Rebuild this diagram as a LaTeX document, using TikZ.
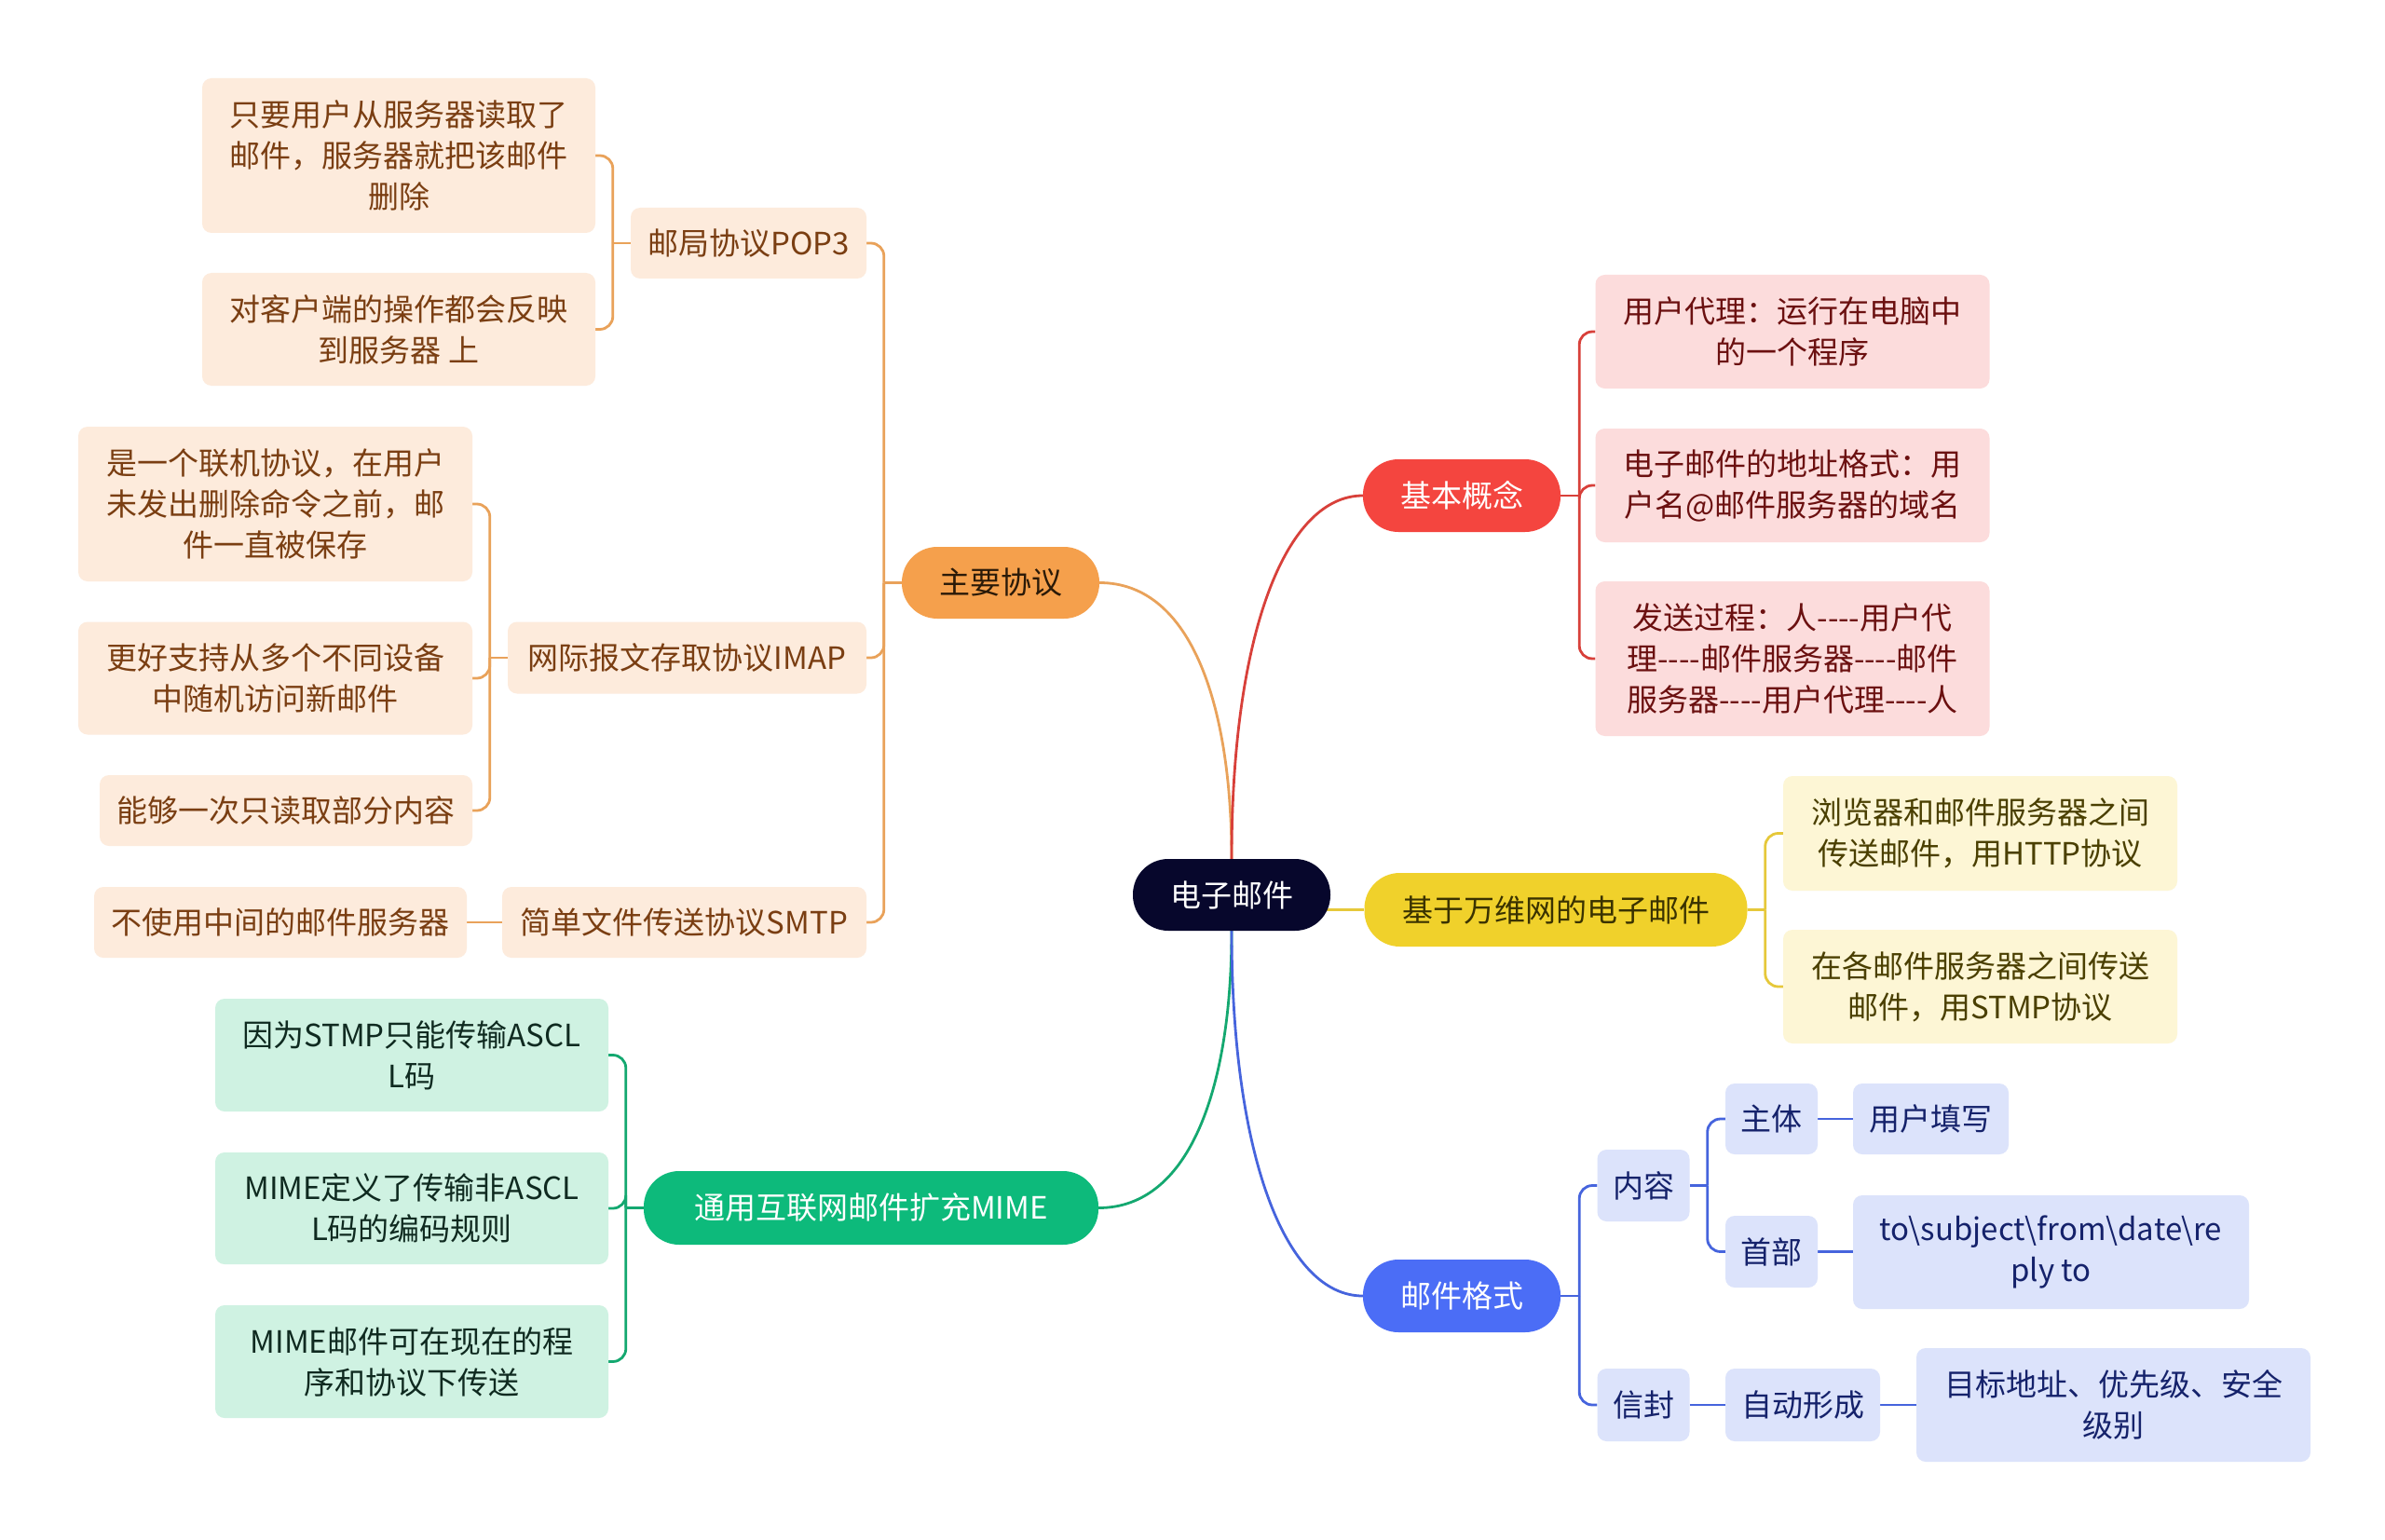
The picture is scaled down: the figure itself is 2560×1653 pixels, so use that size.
\documentclass[tikz,border=0pt]{standalone}
\usepackage{fontspec}
\setmainfont{Noto Sans CJK SC}
\usetikzlibrary{backgrounds}
\newcommand\fourdash{-{}-{}-{}-}
\definecolor{cC}{HTML}{07072C}
\definecolor{pO}{HTML}{F5A04C}
\definecolor{pR}{HTML}{F4453F}
\definecolor{pY}{HTML}{F0D12B}
\definecolor{pG}{HTML}{0DBA7B}
\definecolor{pB}{HTML}{4B6DF6}
\definecolor{tPO}{HTML}{2B1A08}
\definecolor{tPY}{HTML}{3A3200}
\definecolor{fO}{HTML}{FDEBDC}
\definecolor{tO}{HTML}{7A3E12}
\definecolor{fR}{HTML}{FCDCDC}
\definecolor{tR}{HTML}{6B1010}
\definecolor{fY}{HTML}{FDF6D5}
\definecolor{tY}{HTML}{4A3F00}
\definecolor{fB}{HTML}{DCE3FB}
\definecolor{tB}{HTML}{15226B}
\definecolor{fG}{HTML}{CFF2E2}
\definecolor{tG}{HTML}{0F2A20}
\definecolor{lO}{HTML}{E9A25A}
\definecolor{lR}{HTML}{D8403A}
\definecolor{lY}{HTML}{E6C83A}
\definecolor{lG}{HTML}{14A870}
\definecolor{lB}{HTML}{4664DD}
\tikzset{
  base/.style={rectangle, inner sep=0pt, align=center, font=\fontsize{33}{44}\selectfont},
  sz/.style 2 args={minimum width=#1, minimum height=#2},
  pill/.style={base, rounded corners=38pt},
  leaf/.style={base, rounded corners=10pt},
  oleaf/.style={leaf, fill=fO, text=tO},
  rleaf/.style={leaf, fill=fR, text=tR},
  yleaf/.style={leaf, fill=fY, text=tY},
  bleaf/.style={leaf, fill=fB, text=tB},
  gleaf/.style={leaf, fill=fG, text=tG},
  con/.style={line width=2.8pt},
  oL/.style={con, draw=lO},
  rL/.style={con, draw=lR},
  yL/.style={con, draw=lY},
  gL/.style={con, draw=lG},
  bL/.style={con, draw=lB},
  br/.style={rounded corners=14pt}
}
\begin{document}
\begin{tikzpicture}[x=1pt,y=-1pt]
\useasboundingbox (0,0) rectangle (2560,1653);

% main nodes
\node[pill, sz={212}{77}, fill=cC, text=white] (c) at (1322,960.5) {电子邮件};
\node[pill, sz={212}{77}, fill=pO, text=tPO] (A) at (1074,625.5) {主要协议};
\node[pill, sz={212}{78}, fill=pR, text=white] (B) at (1569,532) {基本概念};
\node[pill, sz={411}{79}, fill=pY, text=tPY] (Y) at (1670,976.5) {基于万维网的电子邮件};
\node[pill, sz={488}{79}, fill=pG, text=white] (G) at (935,1296.5) {通用互联网邮件扩充MIME};
\node[pill, sz={212}{78}, fill=pB, text=white] (U) at (1569,1391) {邮件格式};

% orange
\node[oleaf, sz={422}{166}] (o1) at (428,167) {只要用户从服务器读取了\\邮件，服务器就把该邮件\\删除};
\node[oleaf, sz={422}{121}] (o2) at (428,353.5) {对客户端的操作都会反映\\到服务器 上};
\node[oleaf, sz={253}{76}] (p) at (803.5,261) {邮局协议POP3};
\node[oleaf, sz={423}{166}] (o3) at (295.5,541) {是一个联机协议，在用户\\未发出删除命令之前，邮\\件一直被保存};
\node[oleaf, sz={423}{121}] (o4) at (295.5,728) {更好支持从多个不同设备\\中随机访问新邮件};
\node[oleaf, sz={400}{76}] (o5) at (307,870) {能够一次只读取部分内容};
\node[oleaf, sz={385}{77}] (im) at (737.5,706) {网际报文存取协议IMAP};
\node[oleaf, sz={400}{76}] (o6) at (301,990) {不使用中间的邮件服务器};
\node[oleaf, sz={391}{76}] (sm) at (734.5,990) {简单文件传送协议SMTP};

% red
\node[rleaf, sz={423}{122}] (r1) at (1924,356) {用户代理：运行在电脑中\\的一个程序};
\node[rleaf, sz={423}{122}] (r2) at (1924,521) {电子邮件的地址格式：用\\户名@邮件服务器的域名};
\node[rleaf, sz={423}{166}] (r3) at (1924,707) {发送过程：人\fourdash 用户代\\理\fourdash 邮件服务器\fourdash 邮件\\服务器\fourdash 用户代理\fourdash 人};

% yellow
\node[yleaf, sz={423}{123}] (y1) at (2125.5,894.5) {浏览器和邮件服务器之间\\传送邮件，用HTTP协议};
\node[yleaf, sz={423}{122}] (y2) at (2125.5,1059) {在各邮件服务器之间传送\\邮件，用STMP协议};

% blue
\node[bleaf, sz={99}{77}] (k1) at (1764,1272.5) {内容};
\node[bleaf, sz={99}{78}] (k2) at (1764,1508) {信封};
\node[bleaf, sz={99}{76}] (k3) at (1901.5,1201) {主体};
\node[bleaf, sz={99}{77}] (k4) at (1901.5,1343.5) {首部};
\node[bleaf, sz={167}{76}] (k5) at (2072.5,1201) {用户填写};
\node[bleaf, sz={425}{122}] (k6) at (2201.5,1344) {to\textbackslash subject\textbackslash from\textbackslash date\textbackslash re\\ply to};
\node[bleaf, sz={166}{78}] (k7) at (1935,1508) {自动形成};
\node[bleaf, sz={423}{122}] (k8) at (2268.5,1508) {目标地址、优先级、安全\\级别};

% green
\node[gleaf, sz={422}{121}] (g1) at (442,1132.5) {因为STMP只能传输ASCL\\L码};
\node[gleaf, sz={422}{120}] (g2) at (442,1297) {MIME定义了传输非ASCL\\L码的编码规则};
\node[gleaf, sz={422}{121}] (g3) at (442,1461.5) {MIME邮件可在现在的程\\序和协议下传送};

\begin{scope}[on background layer]
\fill[white] (0,0) rectangle (2560,1653);
% center connectors
\draw[oL] (c.north) .. controls (1322,760) and (1280,625.5) .. (A.east);
\draw[rL] (c.north) .. controls (1322,680) and (1380,532) .. (B.west);
\draw[yL] ([xshift=-12pt]c.east |- Y.west) -- (Y.west);
\draw[gL] (c.south) .. controls (1322,1161) and (1280,1296.5) .. (G.east);
\draw[bL] (c.south) .. controls (1322,1241) and (1380,1391) .. (U.west);

% orange brackets
\draw[oL] (A.west) -- ++(-19,0);
\draw[oL,br] (A.west) ++(-19,0) |- (p.east);
\draw[oL,br] (A.west) ++(-19,0) |- (im.east);
\draw[oL,br] (A.west) ++(-19,0) |- (sm.east);
\draw[oL] (p.west) -- ++(-19,0);
\draw[oL,br] (p.west) ++(-19,0) |- (o1.east);
\draw[oL,br] (p.west) ++(-19,0) |- (o2.east);
\draw[oL] (im.west) -- ++(-19,0);
\draw[oL,br] (im.west) ++(-19,0) |- (o3.east);
\draw[oL,br] (im.west) ++(-19,0) |- (o4.east);
\draw[oL,br] (im.west) ++(-19,0) |- (o5.east);
\draw[oL] (sm.west) -- (o6.east);

% red brackets
\draw[rL] (B.east) -- ++(20,0);
\draw[rL,br] (B.east) ++(20,0) |- (r1.west);
\draw[rL,br] (B.east) ++(20,0) |- (r2.west);
\draw[rL,br] (B.east) ++(20,0) |- (r3.west);

% yellow brackets
\draw[yL] (Y.east) -- ++(19,0);
\draw[yL,br] (Y.east) ++(19,0) |- (y1.west);
\draw[yL,br] (Y.east) ++(19,0) |- (y2.west);

% green brackets
\draw[gL] (G.west) -- ++(-19,0);
\draw[gL,br] (G.west) ++(-19,0) |- (g1.east);
\draw[gL,br] (G.west) ++(-19,0) |- (g2.east);
\draw[gL,br] (G.west) ++(-19,0) |- (g3.east);

% blue brackets
\draw[bL] (U.east) -- ++(20,0);
\draw[bL,br] (U.east) ++(20,0) |- (k1.west);
\draw[bL,br] (U.east) ++(20,0) |- (k2.west);
\draw[bL] (k1.east) -- ++(19,0);
\draw[bL,br] (k1.east) ++(19,0) |- (k3.west);
\draw[bL,br] (k1.east) ++(19,0) |- (k4.west);
\draw[bL] (k3.east) -- (k5.west);
\draw[bL] (k4.east) -- (k4.east -| k6.west);
\draw[bL] (k2.east) -- (k7.west);
\draw[bL] (k7.east) -- (k8.west);
\end{scope}
\end{tikzpicture}
\end{document}
